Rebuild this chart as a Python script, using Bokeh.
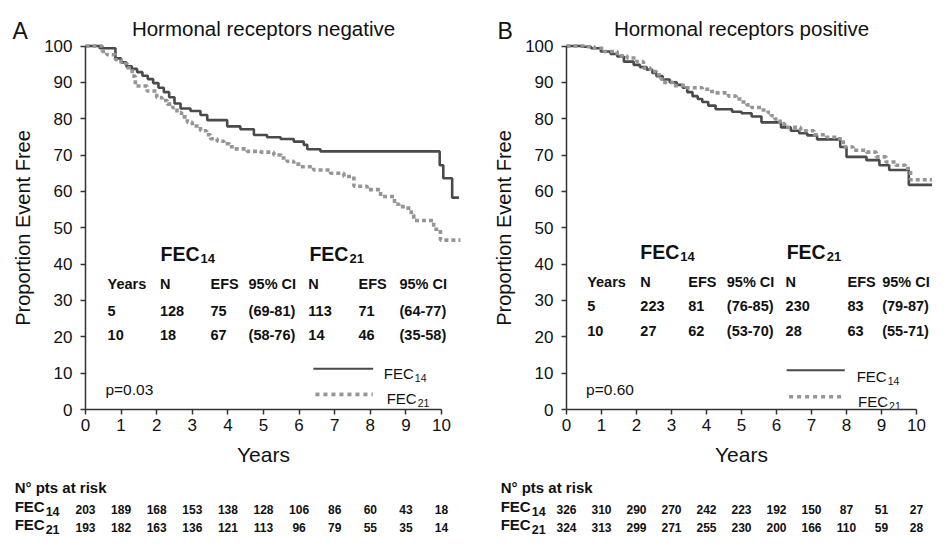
from bokeh.plotting import figure
from bokeh.models import Range1d, ColumnDataSource, FixedTicker
from bokeh.layouts import row
from bokeh.embed import file_html
from bokeh.resources import INLINE
from bokeh.core.properties import value

# ---------------- data ----------------
years = list(range(11))
y_ticks = list(range(0, 101, 10))

# Hormonal receptors negative (Kaplan-Meier steps)
neg14_t = [0, 0.40, 0.84, 1.00, 1.15, 1.30, 1.45, 1.60, 1.75, 1.90, 2.05, 2.20, 2.35, 2.50, 2.67, 2.95, 3.23,
           3.42, 3.98, 4.35, 4.73, 5.10, 5.48, 5.85, 6.13, 6.23, 6.60, 9.95, 10.05, 10.30, 10.49]
neg14_s = [100, 99.4, 96.6, 95.5, 94.4, 93.7, 92.8, 91.8, 90.9, 89.8, 88.5, 87.3, 85.9, 84.2, 82.8, 82.1, 81.0,
           79.6, 77.9, 77.1, 75.5, 74.9, 74.4, 73.7, 72.8, 71.6, 71.0, 67.2, 63.6, 58.3, 58.3]
neg21_t = [0, 0.47, 0.60, 0.84, 1.00, 1.17, 1.31, 1.40, 1.73, 2.00, 2.15, 2.30, 2.45, 2.57, 2.70, 2.86, 3.00,
           3.23, 3.40, 3.51, 3.70, 3.89, 4.05, 4.17, 4.54, 4.92, 5.29, 5.50, 5.66, 5.85, 6.04, 6.41, 6.88, 7.26,
           7.54, 7.91, 8.29, 8.68, 8.80, 9.00, 9.15, 9.22, 9.78, 9.97, 10.53]
neg21_s = [100, 98.5, 97.6, 96.2, 95.2, 94.0, 91.7, 89.0, 87.6, 85.8, 85.0, 84.0, 83.0, 81.7, 80.5, 79.0, 78.0,
           76.7, 75.6, 74.5, 73.8, 73.1, 72.3, 71.7, 71.0, 70.8, 70.0, 69.2, 68.3, 67.5, 66.8, 65.9, 65.0, 64.1,
           61.4, 60.5, 58.6, 56.5, 55.8, 55.4, 53.5, 52.0, 49.6, 46.6, 46.6]

# Hormonal receptors positive
pos14_t = [0, 0.42, 0.70, 0.98, 1.26, 1.45, 1.64, 1.92, 2.10, 2.29, 2.45, 2.57, 2.75, 2.95, 3.15, 3.32, 3.45,
           3.60, 3.75, 3.88, 4.05, 4.26, 4.73, 5.00, 5.29, 5.57, 6.13, 6.41, 6.65, 6.88, 7.16, 7.82, 8.00, 8.57,
           8.94, 9.22, 9.78, 10.49]
pos14_s = [100, 99.8, 99.4, 98.5, 97.8, 97.1, 95.7, 94.8, 94.2, 93.5, 92.6, 91.7, 90.8, 90.0, 89.3, 88.5, 87.3,
           86.2, 85.4, 84.6, 83.6, 82.6, 81.9, 81.5, 80.6, 79.0, 77.6, 76.7, 76.0, 75.4, 74.3, 72.2, 69.5, 68.6,
           67.2, 65.9, 61.8, 61.8]
pos21_t = [0, 0.50, 0.80, 1.08, 1.45, 1.73, 2.01, 2.20, 2.40, 2.57, 2.70, 2.76, 3.04, 3.42, 3.88, 4.10, 4.26,
           4.63, 4.85, 5.00, 5.15, 5.29, 5.57, 5.76, 5.85, 5.95, 6.10, 6.23, 6.69, 7.07, 7.44, 7.72, 7.91, 8.19,
           8.57, 8.85, 9.13, 9.41, 9.69, 9.83, 10.49]
pos21_s = [100, 99.8, 99.4, 98.5, 97.3, 96.7, 95.7, 93.9, 93.0, 92.1, 90.9, 90.0, 89.1, 88.5, 88.1, 87.5, 87.1,
           86.2, 85.4, 84.6, 83.8, 83.1, 82.4, 81.7, 80.8, 79.9, 78.7, 77.6, 76.7, 75.6, 74.9, 74.5, 72.2, 71.3,
           70.8, 69.5, 68.1, 67.2, 66.3, 63.2, 63.2]

# Summary tables
table_header = ["Years", "N", "EFS", "95% CI", "N", "EFS", "95% CI"]
neg_rows = [["5", "128", "75", "(69-81)", "113", "71", "(64-77)"],
            ["10", "18", "67", "(58-76)", "14", "46", "(35-58)"]]
pos_rows = [["5", "223", "81", "(76-85)", "230", "83", "(79-87)"],
            ["10", "27", "62", "(53-70)", "28", "63", "(55-71)"]]

# Patients at risk
neg_risk14 = [203, 189, 168, 153, 138, 128, 106, 86, 60, 43, 18]
neg_risk21 = [193, 182, 163, 136, 121, 113, 96, 79, 55, 35, 14]
pos_risk14 = [326, 310, 290, 270, 242, 223, 192, 150, 87, 51, 27]
pos_risk21 = [324, 313, 299, 271, 255, 230, 200, 166, 110, 59, 28]

p_neg = "p=0.03"
p_pos = "p=0.60"

# ---------------- style / layout ----------------
FONT = "Liberation Sans"
DARK = "#4a4a4a"
GRAY = "#959595"
AXIS = "#333333"
TXT = "#111111"
PANEL_W, PANEL_H = 466, 538
Y0_PX = 409.0                 # canvas row of y = 0
PPU = (409.0 - 45.5) / 100    # pixels per percent


def py(px):
    """canvas row (px from top) -> data y"""
    return (Y0_PX - px) / PPU


def texts(p, xs, ys, labels, size, bold=False, align="left", baseline="alphabetic", x_offset=0):
    src = ColumnDataSource(dict(x=list(xs), y=list(ys), text=[str(t) for t in labels]))
    p.text(x="x", y="y", text="text", source=src,
           text_font=value(FONT), text_font_size=value(f"{size}px"),
           text_font_style="bold" if bold else "normal",
           text_align=align, text_baseline=baseline,
           text_color=TXT, x_offset=x_offset)


def sub_text(p, x, y, main, sub, size, sub_size, drop_px, bold):
    texts(p, [x], [y], [main], size, bold)
    texts(p, [x], [y - drop_px / PPU], [sub], sub_size, bold, x_offset=2.0 * size + 1)


def panel(cfg):
    x0, ppy = cfg["left"], cfg["ppy"]
    p = figure(width=PANEL_W, height=PANEL_H, output_backend="svg", toolbar_location=None, title=None,
               x_range=Range1d(-x0 / ppy, (PANEL_W - x0) / ppy),
               y_range=Range1d(py(PANEL_H), py(0)),
               min_border_left=0, min_border_right=0, min_border_top=0, min_border_bottom=0)
    p.grid.visible = False
    p.outline_line_color = None
    p.background_fill_color = "white"
    p.border_fill_color = "white"

    for ax, ticks in ((p.xaxis[0], years), (p.yaxis[0], y_ticks)):
        ax.fixed_location = 0
        ax.ticker = FixedTicker(ticks=ticks)
        ax.bounds = (ticks[0], ticks[-1])
        ax.axis_line_color = AXIS
        ax.axis_line_width = 1.5
        ax.major_tick_line_color = AXIS
        ax.major_tick_line_width = 1.5
        ax.major_tick_in = 0
        ax.major_tick_out = 5
        ax.minor_tick_in = 0
        ax.minor_tick_out = 0
        ax.major_label_text_font = FONT
        ax.major_label_text_font_size = "17px"
        ax.major_label_text_color = TXT
        ax.axis_label_text_font = FONT
        ax.axis_label_text_font_style = "normal"
        ax.axis_label_text_color = TXT
    p.xaxis[0].axis_label = "Years"
    p.xaxis[0].axis_label_text_font_size = "21px"
    p.xaxis[0].major_label_standoff = 4
    p.xaxis[0].axis_label_standoff = 9
    p.yaxis[0].axis_label = "Proportion Event Free"
    p.yaxis[0].axis_label_text_font_size = "20px"
    p.yaxis[0].major_label_standoff = 8
    p.yaxis[0].axis_label_standoff = 7

    # curves
    p.step(cfg["t14"], cfg["s14"], mode="after", line_color=DARK, line_width=2.6)
    p.step(cfg["t21"], cfg["s21"], mode="after", line_color=GRAY, line_width=3.6,
           line_dash="4 3")

    # title and panel letter
    texts(p, [5.0], [py(27.5)], [cfg["title"]], 20.5, align="center")
    texts(p, [cfg["letter_x"]], [py(30.5)], [cfg["letter"]], 23)

    # summary table
    hx = cfg["head_x"]
    sub_text(p, hx[0], cfg["head_y"], "FEC", "14", 19.5, 13, 5, True)
    sub_text(p, hx[1], cfg["head_y"], "FEC", "21", 19.5, 13, 5, True)
    rows = [table_header] + cfg["rows"]
    for r, ry in zip(rows, cfg["row_y"]):
        texts(p, cfg["col_x"], [ry] * len(r), r, 14.5, bold=True)

    # p value
    texts(p, [0.56], [5.4], [cfg["pval"]], 15.5)

    # legend
    lg = cfg["legend"]
    p.line([lg["solid_x"][0], lg["solid_x"][1]], [lg["solid_y"]] * 2, line_color=DARK, line_width=2.0)
    p.line([lg["dot_x"][0], lg["dot_x"][1]], [lg["dot_y"]] * 2, line_color=GRAY, line_width=3.6,
           line_dash="4 4")
    sub_text(p, lg["t1"][0], lg["t1"][1], "FEC", "14", 15, 10.5, 4.5, False)
    sub_text(p, lg["t2"][0], lg["t2"][1], "FEC", "21", 15, 10.5, 4.5, False)

    # patients at risk
    rx = cfg["risk_x"]
    texts(p, [rx], [py(487)], ["N\u00b0 pts at risk"], 15, bold=True)
    sub_text(p, rx, py(506), "FEC", "14", 15, 12.5, 5, True)
    sub_text(p, rx, py(524), "FEC", "21", 15, 12.5, 5, True)
    texts(p, years, [py(509)] * len(years), cfg["risk14"], 12, bold=True, align="center", baseline="middle")
    texts(p, years, [py(527)] * len(years), cfg["risk21"], 12, bold=True, align="center", baseline="middle")
    return p


left_cfg = dict(
    left=85, ppy=35.6,
    t14=neg14_t, s14=neg14_s, t21=neg21_t, s21=neg21_s,
    title="Hormonal receptors negative", letter="A", letter_x=-2.05,
    head_x=[2.11, 6.29], head_y=42.8,
    col_x=[0.62, 2.09, 3.51, 4.58, 6.26, 7.67, 8.82], row_y=[34.4, 27.2, 20.4],
    rows=neg_rows, pval=p_neg,
    legend=dict(solid_x=(6.40, 8.08), solid_y=11.2, dot_x=(6.46, 8.07), dot_y=4.15,
                t1=(8.38, 9.85), t2=(8.46, 3.06)),
    risk_x=-1.99, risk14=neg_risk14, risk21=neg_risk21,
)
right_cfg = dict(
    left=100, ppy=35.0,
    t14=pos14_t, s14=pos14_s, t21=pos21_t, s21=pos21_s,
    title="Hormonal receptors positive", letter="B", letter_x=-1.97,
    head_x=[2.11, 6.29], head_y=43.4,
    col_x=[0.59, 2.11, 3.48, 4.58, 6.26, 8.03, 9.02], row_y=[35.2, 28.5, 21.7],
    rows=pos_rows, pval=p_pos,
    legend=dict(solid_x=(6.29, 7.95), solid_y=10.8, dot_x=(6.36, 7.95), dot_y=3.5,
                t1=(8.29, 8.95), t2=(8.33, 2.2)),
    risk_x=-1.88, risk14=pos_risk14, risk21=pos_risk21,
)

layout = row(panel(left_cfg), panel(right_cfg), spacing=0)
open("out.html", "w").write(file_html(layout, INLINE))
